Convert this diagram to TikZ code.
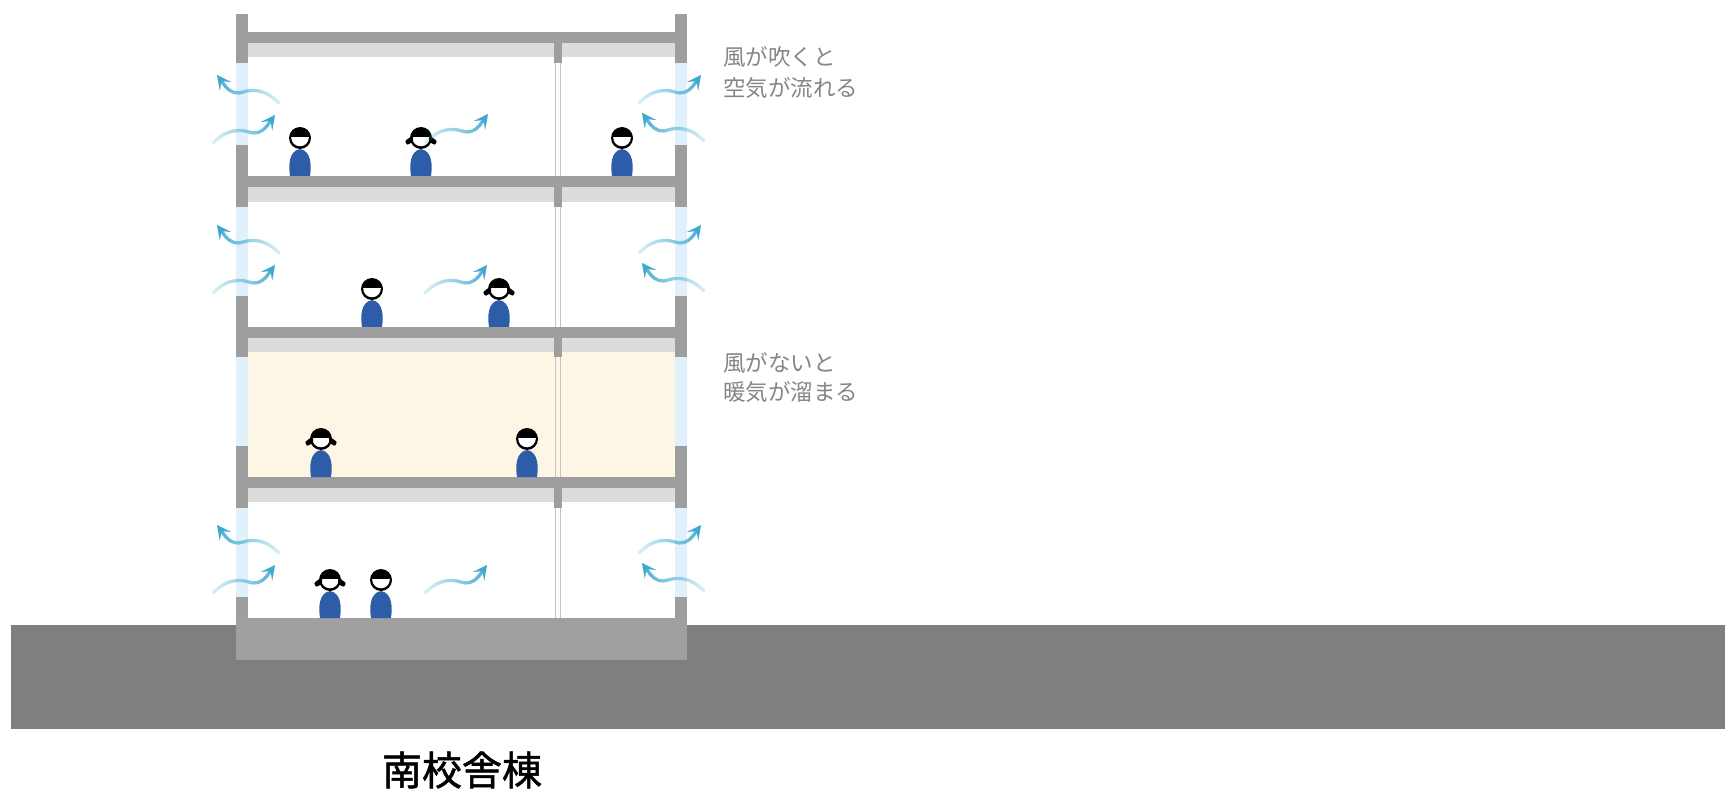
\documentclass[tikz,border=0pt]{standalone}
\usepackage{fontspec}
\newfontfamily\cjk{Noto Sans CJK JP}
\newfontfamily\cjktitle[FakeBold=1.3]{Noto Sans CJK JP}
\usetikzlibrary{arrows.meta,fadings}

\definecolor{slabgray}{HTML}{9E9E9E}
\definecolor{ceilgray}{HTML}{DCDCDC}
\definecolor{glass}{HTML}{E1F1FB}
\definecolor{warmair}{HTML}{FEF6E4}
\definecolor{earth}{HTML}{807E7E}
\definecolor{footing}{HTML}{A0A0A0}
\definecolor{partline}{HTML}{C4C4C4}
\definecolor{kidblue}{HTML}{2D5DA8}
\definecolor{windblue}{HTML}{3FA8CF}
\definecolor{notegray}{HTML}{858585}

\tikzfading[name=windfadeR, left color=transparent!90, right color=transparent!0]
\tikzfading[name=windfadeL, left color=transparent!0, right color=transparent!90]

\tikzset{
  windstroke/.style={windblue, line width=3.3pt, line cap=round, shorten >=5pt,
    fading transform={xscale=1.2, yscale=1.5}},
  windtip/.style={windblue, line width=0.01pt,
    -{Stealth[length=14pt, width=14pt, inset=6.5pt]}},
  pics/windR/.style={code={
    \draw[windstroke, path fading=windfadeR]
      (0,0) .. controls (8,-8) and (15,-12) .. (25,-12.5)
      .. controls (35,-13) and (38,-8.5) .. (45,-10.5)
      .. controls (52,-12.5) and (56,-20) .. (62,-28);
    \draw[windtip] (50,-12) -- (62,-28);
  }},
  pics/windL/.style={code={
    \draw[windstroke, path fading=windfadeL]
      (0,0) .. controls (-8,-8) and (-15,-12) .. (-25,-12.5)
      .. controls (-35,-13) and (-38,-8.5) .. (-45,-10.5)
      .. controls (-52,-12.5) and (-56,-20) .. (-62,-28);
    \draw[windtip] (-50,-12) -- (-62,-28);
  }},
  pics/boy/.style={code={
    \fill[kidblue] (-10,0) .. controls (-11.5,-10) and (-11.5,-25) .. (0,-27)
      .. controls (11.5,-25) and (11.5,-10) .. (10,0) -- cycle;
    \fill[black] (0,-38) circle (11);
    \begin{scope}
      \clip (-10,-38.5) rectangle (10,-27);
      \fill[white] (0,-38.5) circle (8.8);
    \end{scope}
  }},
  pics/girl/.style={code={
    \pic {boy};
    \fill[black, rounded corners=1pt] (-8,-41) -- (-16,-35) -- (-14,-31) -- (-8,-34) -- cycle;
    \fill[black, rounded corners=1pt] (8,-41) -- (16,-35) -- (14,-31) -- (8,-34) -- cycle;
  }},
  note/.style={anchor=west, inner sep=0pt, text=notegray,
    font=\cjk\fontsize{22.5}{27}\selectfont},
  caption/.style={inner sep=0pt, text=black,
    font=\cjktitle\fontsize{40}{48}\selectfont},
}

\begin{document}
\begin{tikzpicture}[x=1pt, y=-1pt]
\useasboundingbox (0,0) rectangle (1725,794);

% ground
\fill[earth] (11,625) rectangle (1725,729);

% heated storey
\fill[warmair] (248,352) rectangle (675,477);

% windows in the outer walls
\foreach \ya/\yb in {63/145, 207/296, 357/446, 508/597} {
  \fill[glass] (236,\ya) rectangle (248,\yb);
  \fill[glass] (675,\ya) rectangle (687,\yb);
}

% outer wall piers
\foreach \ya/\yb in {14/63, 145/207, 296/357, 446/508, 597/620} {
  \fill[slabgray] (236,\ya) rectangle (248,\yb);
  \fill[slabgray] (675,\ya) rectangle (687,\yb);
}

% slabs, ceiling bands and the middle column stubs
\foreach \ys/\ye/\yc/\yd in {32/43/57/63, 176/187/202/207, 327/338/352/357, 477/488/502/508} {
  \fill[ceilgray] (248,\ye) rectangle (675,\yc);
  \fill[slabgray] (248,\ys) rectangle (675,\ye);
  \fill[slabgray] (554,\ye) rectangle (562,\yd);
}

% partition (double line)
\foreach \ya/\yb in {63/176, 207/327, 357/477, 508/618} {
  \draw[partline, line width=1pt] (555.5,\ya) -- (555.5,\yb);
  \draw[partline, line width=1pt] (560.5,\ya) -- (560.5,\yb);
}

% foundation
\fill[footing] (236,618) rectangle (687,660);

% pupils
\pic at (300,176) {boy};
\pic at (421,176) {girl};
\pic at (622,176) {boy};
\pic at (372,327) {boy};
\pic at (499,327) {girl};
\pic at (321,477) {girl};
\pic at (527,477) {boy};
\pic at (330,618) {girl};
\pic at (381,618) {boy};

% air flow
\pic at (279,103) {windL};
\pic at (213,143) {windR};
\pic at (639,103) {windR};
\pic at (704,141) {windL};
\pic at (426,142) {windR};

\pic at (279,253) {windL};
\pic at (213,293) {windR};
\pic at (639,253) {windR};
\pic at (704,291) {windL};
\pic at (425,293) {windR};

\pic at (279,553) {windL};
\pic at (213,593) {windR};
\pic at (639,553) {windR};
\pic at (704,591) {windL};
\pic at (425,593) {windR};

% notes
\node[note] (windon1) at (723,57) {風が吹くと};
\node[note] (windon2) at (723,88) {空気が流れる};
\node[note] (windoff1) at (723,363) {風がないと};
\node[note] (windoff2) at (723,392) {暖気が溜まる};

% title
\node[caption] (title) at (462,770) {南校舎棟};
\end{tikzpicture}
\end{document}
